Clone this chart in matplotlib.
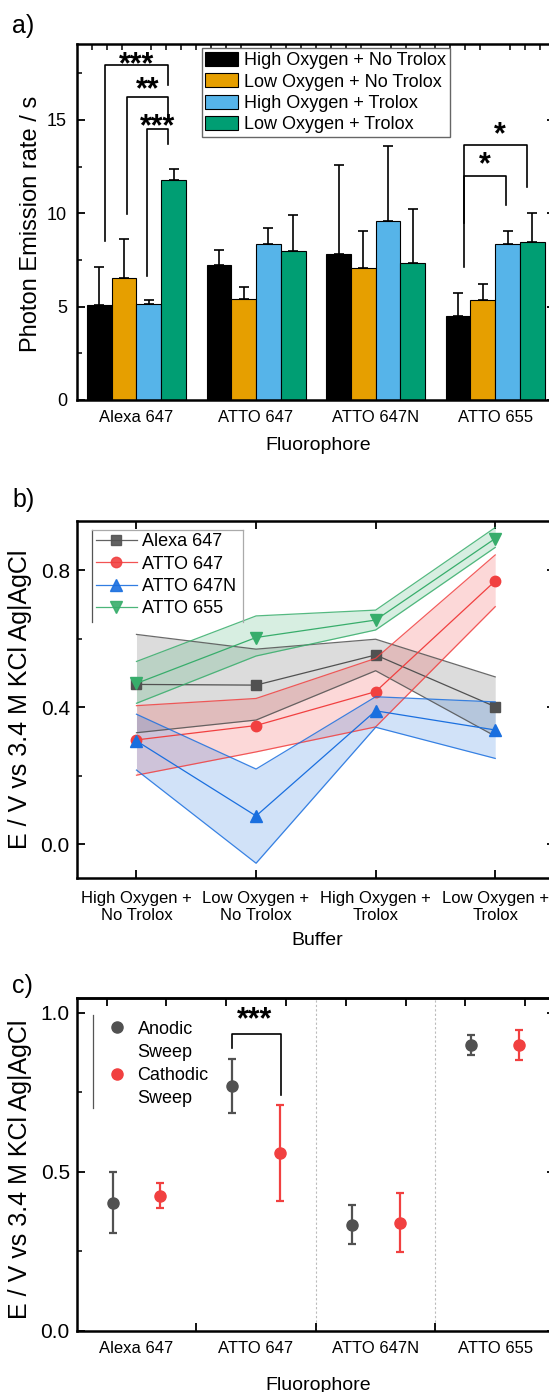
import numpy as np
import matplotlib.pyplot as plt
from matplotlib.lines import Line2D
from matplotlib.ticker import MultipleLocator, FixedLocator

plt.rcParams['font.family'] = ['Liberation Sans', 'DejaVu Sans']

fluorophores = ['Alexa 647', 'ATTO 647', 'ATTO 647N', 'ATTO 655']
buffers = ['High Oxygen + No Trolox', 'Low Oxygen + No Trolox',
           'High Oxygen + Trolox', 'Low Oxygen + Trolox']
buffer_ticks = ['High Oxygen +\nNo Trolox', 'Low Oxygen +\nNo Trolox',
                'High Oxygen +\nTrolox', 'Low Oxygen +\nTrolox']

# a) photon emission rate, one list per buffer (order = fluorophores)
rate_hi_no = [5.09, 7.25, 7.83, 4.52]
rate_lo_no = [6.53, 5.43, 7.05, 5.36]
rate_hi_tr = [5.16, 8.36, 9.61, 8.33]
rate_lo_tr = [11.8, 8.0, 7.33, 8.45]
err_hi_no = [2.06, 0.81, 4.77, 1.23]
err_lo_no = [2.07, 0.60, 2.02, 0.87]
err_hi_tr = [0.18, 0.84, 3.99, 0.74]
err_lo_tr = [0.60, 1.93, 2.92, 1.55]

# significance brackets: x_left, x_right, y_top, y_left_end, y_right_end, label
brackets_a = [
    (0.740, 1.266, 17.93, 8.50, 16.90, '***'),
    (0.921, 1.266, 16.23, 9.95, 15.25, '**'),
    (1.090, 1.266, 14.50, 6.62, 13.74, '***'),
    (3.737, 4.263, 13.65, 7.12, 11.39, '*'),
    (3.737, 4.087, 11.98, 9.47, 10.46, '*'),
]
# centre of the star glyphs
star_pos_a = [(1.003, 18.24), (1.09, 16.9), (1.178, 14.91), (4.038, 14.5), (3.911, 12.9)]

# b) potential vs buffer, centre line and band limits
pot_alexa = [0.467, 0.465, 0.553, 0.402]
pot_alexa_hi = [0.613, 0.570, 0.599, 0.489]
pot_alexa_lo = [0.326, 0.363, 0.507, 0.316]
pot_a647 = [0.305, 0.347, 0.446, 0.769]
pot_a647_hi = [0.405, 0.426, 0.543, 0.845]
pot_a647_lo = [0.202, 0.270, 0.343, 0.694]
pot_a647n = [0.302, 0.083, 0.390, 0.334]
pot_a647n_hi = [0.380, 0.220, 0.431, 0.416]
pot_a647n_lo = [0.217, -0.055, 0.342, 0.251]
pot_a655 = [0.470, 0.604, 0.655, 0.893]
pot_a655_hi = [0.534, 0.667, 0.684, 0.925]
pot_a655_lo = [0.412, 0.550, 0.626, 0.867]

# c) anodic / cathodic sweep potentials
anodic = [0.404, 0.771, 0.334, 0.900]
anodic_err = [0.096, 0.085, 0.062, 0.031]
cathodic = [0.426, 0.559, 0.341, 0.899]
cathodic_err = [0.038, 0.150, 0.093, 0.047]
bracket_c = (1.801, 2.207, 0.934, 0.889, 0.742, '***')
star_pos_c = (1.99, 0.995)

gray, red, blue, green = '#515151', '#F14040', '#1A6FDF', '#37AD6B'
bar_colors = ['#000000', '#E69F00', '#56B4E9', '#009E73']

W, H = 549, 1392
fig = plt.figure(figsize=(W / 100, H / 100), dpi=100)

STAR_FS = 22
# distance from baseline to the middle of an asterisk glyph, in pixels
STAR_RISE = 0.46 * STAR_FS * 100 / 72


def axes_px(left, top, right, bottom):
    return fig.add_axes([left / W, 1 - bottom / H, (right - left) / W, (bottom - top) / H])


def style(ax):
    for s in ax.spines.values():
        s.set_linewidth(1.8)
    ax.tick_params(which='major', direction='in', length=6, width=1.3)
    ax.tick_params(which='minor', direction='in', length=3.5, width=1.1)


def stars(ax, xs, ys, lab, px_per_unit):
    ax.text(xs, ys - STAR_RISE / px_per_unit, lab, ha='center', va='baseline',
            fontsize=STAR_FS, fontweight='bold')


ax1 = axes_px(76.7, 44, 555, 400)
ax2 = axes_px(76.7, 520.7, 555, 878.3)
ax3 = axes_px(76.7, 998.3, 555, 1331)

# ---------- a) ----------
x = np.arange(1, 5)
w = 0.207
series = [rate_hi_no, rate_lo_no, rate_hi_tr, rate_lo_tr]
errs = [err_hi_no, err_lo_no, err_hi_tr, err_lo_tr]
for i, (vals, e) in enumerate(zip(series, errs)):
    pos = x + (i - 1.5) * w
    ax1.bar(pos, vals, w, color=bar_colors[i], edgecolor='black', linewidth=0.8,
            label=buffers[i], zorder=2)
    ax1.errorbar(pos, vals, yerr=[np.zeros(4), e], fmt='none', ecolor='black',
                 elinewidth=1.2, capsize=3.5, capthick=1.2, zorder=3)
ylim_a = (0, 19.07)
ppu_a = 356 / (ylim_a[1] - ylim_a[0])
for (xl, xr, yt, yl, yr, lab), (tx, ty) in zip(brackets_a, star_pos_a):
    ax1.plot([xl, xl, xr, xr], [yl, yt, yt, yr], color='black', lw=1.2, zorder=4)
    stars(ax1, tx, ty, lab, ppu_a)

style(ax1)
ax1.set_xlim(0.5, 4.5)
ax1.set_ylim(*ylim_a)
ax1.set_xticks(x, fluorophores)
ax1.xaxis.set_minor_locator(FixedLocator(np.arange(0.625, 4.5, 0.125)))
ax1.tick_params(axis='x', which='major', length=0, labelsize=12, pad=7)
ax1.tick_params(axis='x', which='minor', bottom=False, top=True, length=4)
ax1.set_yticks([0, 5, 10, 15])
ax1.yaxis.set_minor_locator(MultipleLocator(2.5))
ax1.tick_params(axis='y', which='both', right=True, labelsize=13, pad=7)
ax1.set_xlabel('Fluorophore', fontsize=14)
ax1.xaxis.set_label_coords(0.5055, -0.104)
ax1.set_ylabel('Photon Emission rate / s', fontsize=17)
ax1.yaxis.set_label_coords(-0.073, 0.494)
leg = ax1.legend(loc='upper left', bbox_to_anchor=(0.261, 0.988), fontsize=13,
                 fancybox=False, framealpha=1, edgecolor='#666666', borderpad=0.2,
                 handlelength=1.8, handleheight=0.83, handletextpad=0.35,
                 labelspacing=0.22, borderaxespad=0)
leg.get_frame().set_linewidth(1.0)

# ---------- b) ----------
b_sets = [
    ('Alexa 647', pot_alexa, pot_alexa_lo, pot_alexa_hi, gray, 's', 7),
    ('ATTO 647', pot_a647, pot_a647_lo, pot_a647_hi, red, 'o', 7.5),
    ('ATTO 647N', pot_a647n, pot_a647n_lo, pot_a647n_hi, blue, '^', 8),
    ('ATTO 655', pot_a655, pot_a655_lo, pot_a655_hi, green, 'v', 8),
]
handles = []
for name, mid, lo, hi, c, m, ms in b_sets:
    ax2.fill_between(x, lo, hi, color=c, alpha=0.2, linewidth=0)
    ax2.plot(x, lo, color=c, lw=0.9, alpha=0.85)
    ax2.plot(x, hi, color=c, lw=0.9, alpha=0.85)
    ax2.plot(x, mid, color=c, lw=0.9, marker=m, ms=ms, mec=c, mfc=c)
    handles.append(Line2D([], [], color=c, lw=0.9, alpha=0.9, marker=m, ms=ms, mec=c, mfc=c))
style(ax2)
ax2.set_xlim(0.5, 4.5)
ax2.set_ylim(-0.099, 0.945)
ax2.set_xticks(x, buffer_ticks)
ax2.tick_params(axis='x', which='major', top=True, labelsize=12, pad=9)
ax2.set_yticks([0.0, 0.4, 0.8])
ax2.yaxis.set_minor_locator(MultipleLocator(0.2))
ax2.tick_params(axis='y', which='both', right=True, labelsize=15, pad=5)
ax2.set_xlabel('Buffer', fontsize=14)
ax2.xaxis.set_label_coords(0.502, -0.15)
ax2.set_ylabel('E / V vs 3.4 M KCl Ag|AgCl', fontsize=18)
ax2.yaxis.set_label_coords(-0.094, 0.5)
ax2.legend(handles, [s[0] for s in b_sets], loc='upper left',
           bbox_to_anchor=(0.0404, 0.965), fontsize=13, frameon=False, borderpad=0,
           borderaxespad=0, handlelength=2.25, handletextpad=0.28, labelspacing=0.3)
t2 = ax2.transAxes
ax2.add_line(Line2D([0.0326, 0.0326], [0.974, 0.716], transform=t2, color='#555555', lw=0.9))
ax2.add_line(Line2D([0.0326, 0.348], [0.974, 0.974], transform=t2, color='#aaaaaa', lw=0.9))
ax2.add_line(Line2D([0.348, 0.348], [0.974, 0.716], transform=t2, color='#aaaaaa', lw=0.9))

# ---------- c) ----------
ax3.errorbar(x - 0.2, anodic, yerr=anodic_err, fmt='o', color=gray, ms=8,
             elinewidth=1.6, capsize=3, capthick=1.6, zorder=3)
ax3.errorbar(x + 0.2, cathodic, yerr=cathodic_err, fmt='o', color=red, ms=8,
             elinewidth=1.6, capsize=3, capthick=1.6, zorder=3)
for xv in [2.5, 3.5]:
    ax3.axvline(xv, color='#bbbbbb', lw=0.8, ls=(0, (2, 2)), zorder=1)
ylim_c = (0, 1.046)
xl, xr, yt, yl, yr, lab = bracket_c
ax3.plot([xl, xl, xr, xr], [yl, yt, yt, yr], color='black', lw=1.2)
stars(ax3, star_pos_c[0], star_pos_c[1], lab, 332.7 / (ylim_c[1] - ylim_c[0]))
style(ax3)
ax3.set_xlim(0.5, 4.5)
ax3.set_ylim(*ylim_c)
ax3.set_xticks(x, fluorophores)
ax3.xaxis.set_minor_locator(FixedLocator([1.5, 2.5, 3.5]))
ax3.tick_params(axis='x', which='major', length=0, labelsize=12, pad=7)
ax3.tick_params(axis='x', which='minor', length=6, width=1.3)
sec = ax3.secondary_xaxis('top')
sec.set_xticks(np.arange(0.75, 4.5, 0.5))
sec.tick_params(axis='x', direction='in', length=6, width=1.3, labeltop=False)
sec.spines['top'].set_linewidth(1.8)
ax3.set_yticks([0.0, 0.5, 1.0])
ax3.yaxis.set_minor_locator(MultipleLocator(0.25))
ax3.tick_params(axis='y', which='both', right=True, labelsize=15, pad=5)
ax3.set_xlabel('Fluorophore', fontsize=14)
ax3.xaxis.set_label_coords(0.5055, -0.138)
ax3.set_ylabel('E / V vs 3.4 M KCl Ag|AgCl', fontsize=18)
ax3.yaxis.set_label_coords(-0.094, 0.485)
blank = Line2D([], [], ls='none', marker='none')
hc = [Line2D([], [], ls='none', marker='o', ms=8, color=gray), blank,
      Line2D([], [], ls='none', marker='o', ms=8, color=red), blank]
ax3.legend(hc, ['Anodic', 'Sweep', 'Cathodic', 'Sweep'], loc='upper left',
           bbox_to_anchor=(0.0646, 0.933), fontsize=13, frameon=False, borderpad=0,
           borderaxespad=0, handlelength=1.0, handletextpad=0.66, labelspacing=0.34)
ax3.add_line(Line2D([0.0343, 0.0343], [0.95, 0.67], transform=ax3.transAxes,
                    color='#555555', lw=0.9))

for lab, ytop in [('a)', 14), ('b)', 488), ('c)', 974)]:
    fig.text(12 / W, 1 - ytop / H, lab, fontsize=18, va='top', ha='left')

plt.savefig('out.png', dpi=100)
